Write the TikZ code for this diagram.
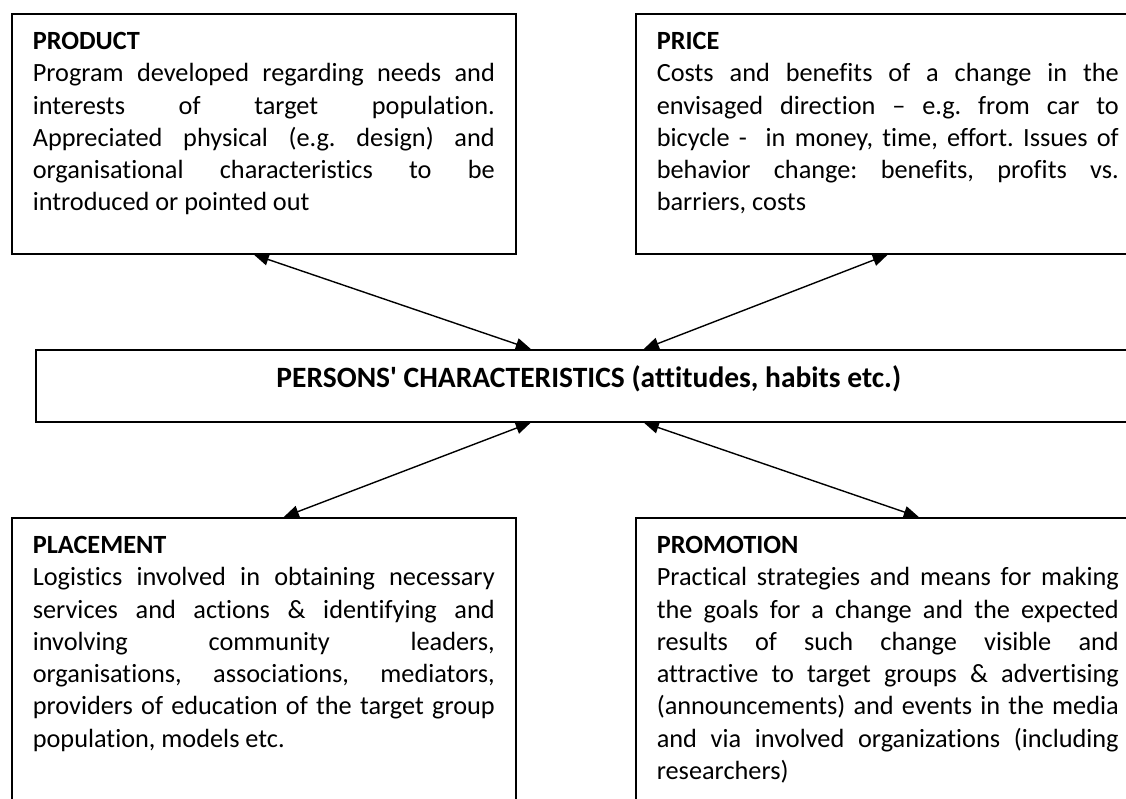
\documentclass[tikz,border=0pt]{standalone}
\usepackage{fontspec}
\setmainfont{Carlito}[Ligatures={TeXOff,NoCommon}]
\usetikzlibrary{arrows.meta,positioning}

% justified card text, top aligned in a fixed height
\newcommand{\cardtext}[2]{\parbox[t][#1][t]{462pt}{\tolerance=10000\hyphenpenalty=10000\strut #2}}

\begin{document}
\frenchspacing
\begin{tikzpicture}[x=1pt, y=-1pt,
    block/.style={draw, line width=1.6pt, anchor=north west, inner xsep=21pt, inner ysep=13pt, font=\fontsize{26.3}{32.3}\selectfont},
    centre/.style={draw, line width=1.6pt, anchor=north west, minimum width=1106pt, minimum height=72pt, text height=22pt, text depth=18pt, font=\fontsize{29.5}{35}\selectfont\bfseries},
    arrow/.style={line width=1.4pt, <->, >={Triangle[length=15pt,width=12pt]}}]

    \useasboundingbox (0,0) rectangle (1126,799);
    \clip (0,0) rectangle (1126,799);

    \node[block] (product) at (11,13) {\cardtext{214pt}{\textbf{PRODUCT}\\
        Program developed regarding needs and\linebreak
        interests of target population.\linebreak
        Appreciated physical (e.g. design) and\linebreak
        organisational characteristics to be\linebreak
        introduced or pointed out}};
    \node[block] (price) at (635,13) {\cardtext{214pt}{\textbf{PRICE}\\
        Costs and benefits of a change in the\linebreak
        envisaged direction – e.g. from car to\linebreak
        bicycle -\ \ in money, time, effort. Issues of\linebreak
        behavior change: benefits, profits vs.\linebreak
        barriers, costs}};
    \node[centre] (persons) at (35,349) {PERSONS' CHARACTERISTICS (attitudes, habits etc.)};
    \node[block] (placement) at (11,517) {\cardtext{287pt}{\textbf{PLACEMENT}\\
        Logistics involved in obtaining necessary\linebreak
        services and actions \& identifying and\linebreak
        involving community leaders,\linebreak
        organisations, associations, mediators,\linebreak
        providers of education of the target group\linebreak
        population, models etc.}};
    \node[block] (promotion) at (635,517) {\cardtext{287pt}{\textbf{PROMOTION}\\
        Practical strategies and means for making\linebreak
        the goals for a change and the expected\linebreak
        results of such change visible and\linebreak
        attractive to target groups \& advertising\linebreak
        (announcements) and events in the media\linebreak
        and via involved organizations (including\linebreak
        researchers)}};

    \draw[arrow] ([xshift=-10pt]product.south) -- ([xshift=-58pt]persons.north);
    \draw[arrow] (price.south) -- ([xshift=55pt]persons.north);
    \draw[arrow] ([xshift=20pt]placement.north) -- ([xshift=-58pt]persons.south);
    \draw[arrow] ([xshift=31pt]promotion.north) -- ([xshift=55pt]persons.south);
\end{tikzpicture}
\end{document}
